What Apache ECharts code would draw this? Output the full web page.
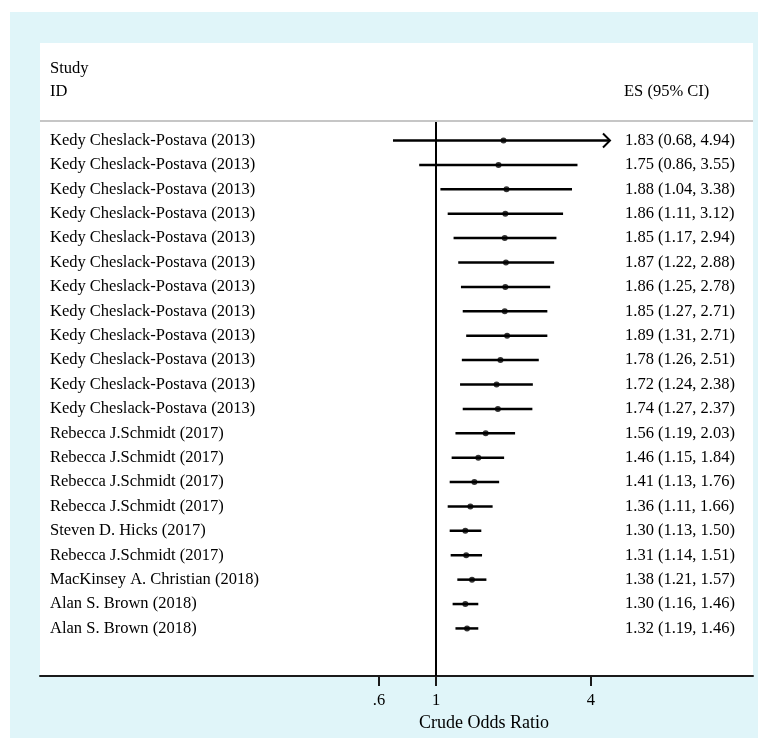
<!DOCTYPE html>
<html>
<head>
<meta charset="utf-8">
<script src="https://cdn.jsdelivr.net/npm/echarts@6/dist/echarts.min.js"></script>
<style>
html,body{margin:0;padding:0;background:#fff;}
#chart{width:758px;height:738px;}
</style>
</head>
<body>
<div id="chart"></div>
<script>
// ---- data ----
const studies = [
  'Kedy Cheslack-Postava (2013)','Kedy Cheslack-Postava (2013)','Kedy Cheslack-Postava (2013)',
  'Kedy Cheslack-Postava (2013)','Kedy Cheslack-Postava (2013)','Kedy Cheslack-Postava (2013)',
  'Kedy Cheslack-Postava (2013)','Kedy Cheslack-Postava (2013)','Kedy Cheslack-Postava (2013)',
  'Kedy Cheslack-Postava (2013)','Kedy Cheslack-Postava (2013)','Kedy Cheslack-Postava (2013)',
  'Rebecca J.Schmidt (2017)','Rebecca J.Schmidt (2017)','Rebecca J.Schmidt (2017)',
  'Rebecca J.Schmidt (2017)','Steven D. Hicks (2017)','Rebecca J.Schmidt (2017)',
  'MacKinsey A. Christian (2018)','Alan S. Brown (2018)','Alan S. Brown (2018)'
];
const es  = [1.83,1.75,1.88,1.86,1.85,1.87,1.86,1.85,1.89,1.78,1.72,1.74,1.56,1.46,1.41,1.36,1.30,1.31,1.38,1.30,1.32];
const ciLow  = [0.68,0.86,1.04,1.11,1.17,1.22,1.25,1.27,1.31,1.26,1.24,1.27,1.19,1.15,1.13,1.11,1.13,1.14,1.21,1.16,1.19];
const ciHigh = [4.94,3.55,3.38,3.12,2.94,2.88,2.78,2.71,2.71,2.51,2.38,2.37,2.03,1.84,1.76,1.66,1.50,1.51,1.57,1.46,1.46];
const tickValues = [0.6, 1, 4];
const tickLabels = ['.6', '1', '4'];
const xRangeRaw = [0.0288, 17.1];   // displayed axis extent (odds ratio)
const arrowClip = 4.75;              // CI upper ends beyond this are drawn as arrows
const xTitle = 'Crude Odds Ratio';
const headerStudy = 'Study';
const headerID = 'ID';
const headerES = 'ES (95% CI)';

// ---- build ----
const ln = Math.log;
const fmt = v => v.toFixed(2);
const rowIdx = studies.map((_, i) => i);
const esText = es.map((v, i) => fmt(v) + ' (' + fmt(ciLow[i]) + ', ' + fmt(ciHigh[i]) + ')');
const ciData = rowIdx.map(i => [i, ln(ciLow[i]), ln(ciHigh[i])]);
const ptData = rowIdx.map(i => [ln(es[i]), i]);
const tickLn = tickValues.map(v => ln(v));
const clipLn = ln(arrowClip);
const FONT = '"Liberation Serif", "Times New Roman", serif';
const TXT = '#000';
const FS = 16.5;

const chart = echarts.init(document.getElementById('chart'), null, {renderer: 'canvas'});
const gridL = 40, gridR = 5, gridT = 122, gridB = 62;

const option = {
  backgroundColor: '#ffffff',
  animation: false,
  grid: {left: gridL, right: gridR, top: gridT, bottom: gridB},
  xAxis: {
    type: 'value',
    position: 'bottom',
    min: ln(xRangeRaw[0]), max: ln(xRangeRaw[1]),
    splitLine: {show: false},
    axisLine: {show: true, onZero: false, lineStyle: {color: '#1a1a1a', width: 2}},
    axisTick: {show: true, customValues: tickLn, length: 10, lineStyle: {color: '#1a1a1a', width: 2}},
    axisLabel: {
      customValues: tickLn, margin: 16,
      fontFamily: FONT, fontSize: FS, color: TXT,
      formatter: v => {
        let k = 0, best = 1e9;
        tickLn.forEach((t, j) => { if (Math.abs(t - v) < best) { best = Math.abs(t - v); k = j; } });
        return tickLabels[k];
      }
    }
  },
  yAxis: [
    {
      type: 'value', inverse: true, min: -0.76, max: 21.95,
      splitLine: {show: false}, axisLine: {show: false, onZero: false}, axisTick: {show: false},
      axisLabel: {
        inside: true, margin: 10, customValues: rowIdx,
        fontFamily: FONT, fontSize: FS, color: TXT,
        formatter: v => studies[Math.round(v)] || ''
      }
    },
    {
      type: 'value', inverse: true, min: -0.76, max: 21.95, position: 'right',
      splitLine: {show: false}, axisLine: {show: false, onZero: false}, axisTick: {show: false},
      axisLabel: {
        inside: true, margin: 128, align: 'left', customValues: rowIdx,
        fontFamily: FONT, fontSize: FS, color: TXT,
        formatter: v => esText[Math.round(v)] || ''
      }
    }
  ],
  graphic: [
    {type: 'rect', z: -20, silent: true, shape: {x: 10, y: 12, width: 748, height: 726}, style: {fill: '#e0f5f9'}},
    {type: 'rect', z: -19, silent: true, shape: {x: 40, y: 43, width: 713, height: 633}, style: {fill: '#ffffff'}},
    {type: 'line', z: -18, silent: true, shape: {x1: 40, y1: 121, x2: 753, y2: 121}, style: {stroke: '#c6c6c6', lineWidth: 2}},
    {type: 'text', left: 50, top: 60, style: {text: headerStudy, font: FS + 'px ' + FONT, fill: TXT}},
    {type: 'text', left: 50, top: 83, style: {text: headerID, font: FS + 'px ' + FONT, fill: TXT}},
    {type: 'text', left: 624, top: 83, style: {text: headerES, font: FS + 'px ' + FONT, fill: TXT}},
    {type: 'text', left: 485 - 66, top: 714, style: {text: xTitle, font: '18px ' + FONT, fill: TXT}}
  ],
  series: [
    {
      type: 'custom',
      data: ciData,
      encode: {x: [1, 2], y: 0},
      clip: false,
      renderItem: function (params, api) {
        const i = api.value(0), lo = api.value(1), hi = api.value(2);
        const clipped = hi > clipLn;
        const p1 = api.coord([lo, i]);
        const p2 = api.coord([clipped ? clipLn : hi, i]);
        const children = [{
          type: 'line',
          shape: {x1: p1[0], y1: p1[1], x2: p2[0], y2: p2[1]},
          style: {stroke: '#000', lineWidth: 2.5}
        }];
        if (clipped) {
          children.push({
            type: 'polyline',
            shape: {points: [[p2[0] - 7, p2[1] - 7], [p2[0], p2[1]], [p2[0] - 7, p2[1] + 7]]},
            style: {stroke: '#000', lineWidth: 2, fill: null}
          });
        }
        return {type: 'group', children: children};
      },
      z: 3
    },
    {
      type: 'scatter',
      data: ptData,
      symbol: 'circle',
      symbolSize: 6,
      itemStyle: {color: '#000'},
      z: 4,
      markLine: {
        silent: true,
        symbol: 'none',
        label: {show: false},
        lineStyle: {color: '#000', width: 2, type: 'solid'},
        data: [{xAxis: 0}]
      }
    }
  ]
};
chart.setOption(option);
</script>
</body>
</html>
